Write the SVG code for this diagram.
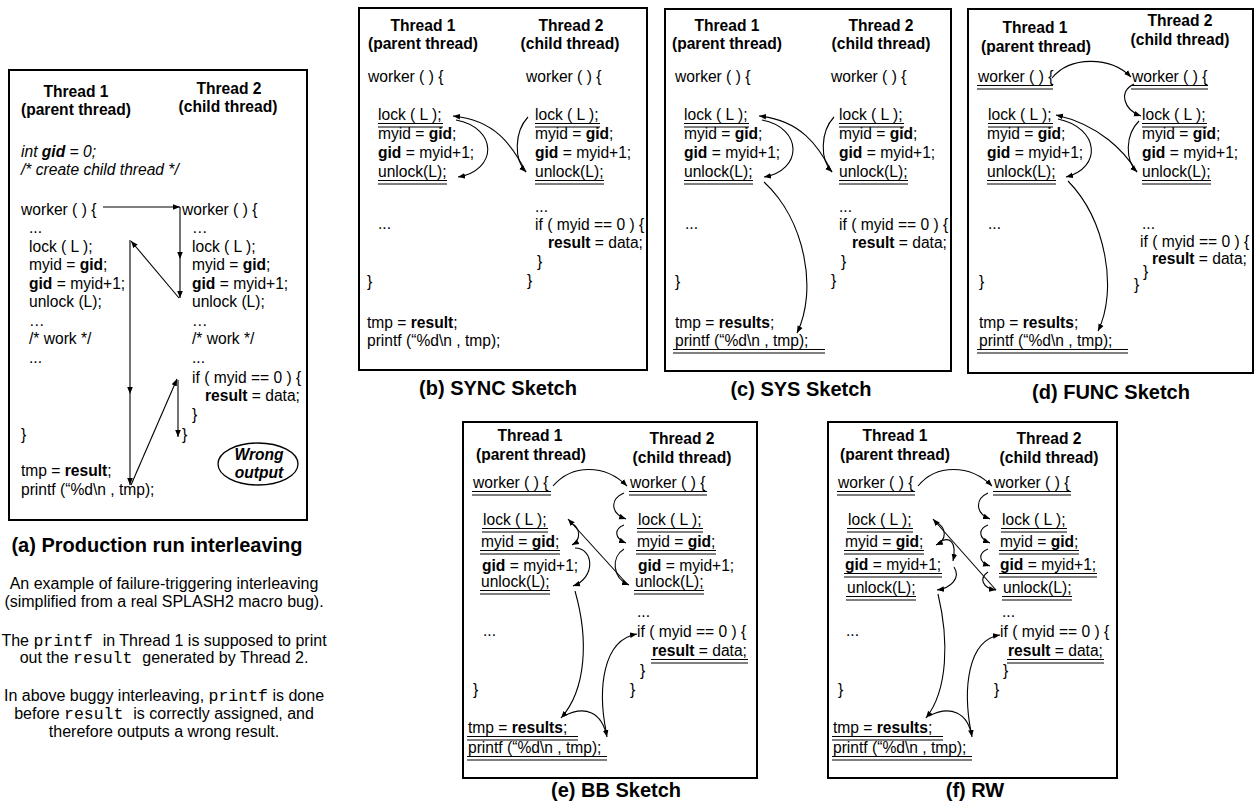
<svg xmlns="http://www.w3.org/2000/svg" width="1259" height="806" viewBox="0 0 1259 806">
<defs>
<marker id="ah" viewBox="0 0 10 10" refX="10" refY="5" markerWidth="7" markerHeight="7" markerUnits="userSpaceOnUse" orient="auto">
<path d="M0,1 L10,5 L0,9 z" fill="#000"/>
</marker>
<style>
text{font-family:"Liberation Sans",Arial,Helvetica,sans-serif;fill:#000}
.box{fill:#fff;stroke:#000;stroke-width:2}
.t{font-size:15.6px}
.h{font-size:15.6px;font-weight:bold;text-anchor:middle}
.b{font-weight:bold}
.i{font-style:italic}
.cap{font-size:20px;font-weight:bold;text-anchor:middle}
.d{font-size:16px;text-anchor:middle}
.m{font-family:"Liberation Mono","Courier New",monospace;font-size:16.5px}
.du{fill:none;stroke:#000;stroke-width:1}
.cn path{fill:none;stroke:#000;stroke-width:1.1;marker-end:url(#ah)}
.oval{fill:none;stroke:#000;stroke-width:1.3}
</style>
</defs>
<rect width="1259" height="806" fill="#fff"/>

<g id="panel-a">
<rect class="box" x="9" y="70" width="298" height="450"/>
<text class="h" x="76" y="97">Thread 1</text>
<text class="h" x="76" y="115">(parent thread)</text>
<text class="h" x="229" y="94">Thread 2</text>
<text class="h" x="228" y="112">(child thread)</text>
<text class="t i" x="21" y="157">int <tspan class="b">gid</tspan> = 0;</text>
<text class="t i" x="21" y="175">/* create child thread */</text>
<text class="t" x="21" y="215">worker ( ) {</text>
<text class="t" x="29" y="233">...</text>
<text class="t" x="29" y="252">lock ( L );</text>
<text class="t" x="29" y="270">myid = <tspan class="b">gid</tspan>;</text>
<text class="t" x="29" y="289"><tspan class="b">gid</tspan> = myid+1;</text>
<text class="t" x="29" y="307">unlock (L);</text>
<text class="t" x="29" y="326">…</text>
<text class="t" x="29" y="344">/* work */</text>
<text class="t" x="29" y="363">...</text>
<text class="t" x="21" y="440">}</text>
<text class="t" x="21" y="476">tmp = <tspan class="b">result</tspan>;</text>
<text class="t" x="21" y="495">printf (“%d\n , tmp);</text>
<text class="t" x="182" y="215">worker ( ) {</text>
<text class="t" x="192" y="233">…</text>
<text class="t" x="192" y="252">lock ( L );</text>
<text class="t" x="192" y="270">myid = <tspan class="b">gid</tspan>;</text>
<text class="t" x="192" y="289"><tspan class="b">gid</tspan> = myid+1;</text>
<text class="t" x="192" y="307">unlock (L);</text>
<text class="t" x="192" y="326">…</text>
<text class="t" x="192" y="344">/* work */</text>
<text class="t" x="192" y="363">...</text>
<text class="t" x="192" y="383">if ( myid == 0 ) {</text>
<text class="t" x="205" y="401"><tspan class="b">result</tspan> = data;</text>
<text class="t" x="192" y="420">}</text>
<text class="t" x="182" y="440">}</text>
<ellipse class="oval" cx="258" cy="464" rx="40" ry="21"/>
<text class="h i" x="259" y="460">Wrong</text>
<text class="h i" x="259" y="478">output</text>
<text class="cap" x="157" y="552">(a) Production run interleaving</text>
<text class="d" x="164" y="589">An example of failure-triggering interleaving</text>
<text class="d" x="164" y="607">(simplified from a real SPLASH2 macro bug).</text>
<text class="d" x="164" y="646">The <tspan class="m">printf </tspan> in Thread 1 is supposed to print</text>
<text class="d" x="164" y="663">out the <tspan class="m">result </tspan> generated by Thread 2.</text>
<text class="d" x="164" y="701">In above buggy interleaving, <tspan class="m">printf</tspan> is done</text>
<text class="d" x="164" y="719">before <tspan class="m">result </tspan> is correctly assigned, and</text>
<text class="d" x="164" y="737">therefore outputs a wrong result.</text>
</g>

<g id="panel-b">
<rect class="box" x="359" y="8" width="288" height="362"/>
<text class="h" x="423" y="31">Thread 1</text>
<text class="h" x="423" y="49">(parent thread)</text>
<text class="h" x="571" y="31">Thread 2</text>
<text class="h" x="570" y="49">(child thread)</text>
<text class="t" x="368" y="82">worker ( ) {</text>
<text class="t" x="378" y="120">lock ( L );</text>
<text class="t" x="378" y="139">myid = <tspan class="b">gid</tspan>;</text>
<text class="t" x="378" y="158"><tspan class="b">gid</tspan> = myid+1;</text>
<text class="t" x="378" y="177">unlock(L);</text>
<text class="t" x="378" y="229">...</text>
<text class="t" x="367" y="287">}</text>
<text class="t" x="367" y="328">tmp = <tspan class="b">result</tspan>;</text>
<text class="t" x="367" y="346">printf (“%d\n , tmp);</text>
<text class="t" x="526" y="82">worker ( ) {</text>
<text class="t" x="535" y="120">lock ( L );</text>
<text class="t" x="535" y="139">myid = <tspan class="b">gid</tspan>;</text>
<text class="t" x="535" y="158"><tspan class="b">gid</tspan> = myid+1;</text>
<text class="t" x="535" y="177">unlock(L);</text>
<text class="t" x="535" y="212">...</text>
<text class="t" x="535" y="230">if ( myid == 0 ) {</text>
<text class="t" x="548" y="248"><tspan class="b">result</tspan> = data;</text>
<text class="t" x="537" y="267">}</text>
<text class="t" x="527" y="286">}</text>
<path class="du" d="M378 123.5H443M378 127H443M378 180.5H447M378 184H447M535 123.5H600M535 127H600M535 180.5H604M535 184H604"/>
<text class="cap" x="498" y="395">(b) SYNC Sketch</text>
</g>

<g id="panel-c">
<rect class="box" x="665" y="9" width="286" height="362"/>
<text class="h" x="727" y="31">Thread 1</text>
<text class="h" x="727" y="49">(parent thread)</text>
<text class="h" x="881" y="31">Thread 2</text>
<text class="h" x="881" y="49">(child thread)</text>
<text class="t" x="675" y="82">worker ( ) {</text>
<text class="t" x="684" y="120">lock ( L );</text>
<text class="t" x="684" y="139">myid = <tspan class="b">gid</tspan>;</text>
<text class="t" x="684" y="158"><tspan class="b">gid</tspan> = myid+1;</text>
<text class="t" x="684" y="177">unlock(L);</text>
<text class="t" x="685" y="229">...</text>
<text class="t" x="675" y="287">}</text>
<text class="t" x="675" y="328">tmp = <tspan class="b">results</tspan>;</text>
<text class="t" x="675" y="346">printf (“%d\n , tmp);</text>
<text class="t" x="831" y="82">worker ( ) {</text>
<text class="t" x="839" y="120">lock ( L );</text>
<text class="t" x="839" y="139">myid = <tspan class="b">gid</tspan>;</text>
<text class="t" x="839" y="158"><tspan class="b">gid</tspan> = myid+1;</text>
<text class="t" x="839" y="177">unlock(L);</text>
<text class="t" x="839" y="212">...</text>
<text class="t" x="839" y="230">if ( myid == 0 ) {</text>
<text class="t" x="852" y="248"><tspan class="b">result</tspan> = data;</text>
<text class="t" x="841" y="267">}</text>
<text class="t" x="831" y="286">}</text>
<path class="du" d="M684 123.5H749M684 127H749M684 180.5H753M684 184H753M839 123.5H904M839 127H904M839 180.5H908M839 184H908M673 349.5H825M673 353H825"/>
<text class="cap" x="801" y="396">(c) SYS Sketch</text>
</g>

<g id="panel-d">
<rect class="box" x="968" y="9" width="285" height="364"/>
<text class="h" x="1035" y="33">Thread 1</text>
<text class="h" x="1036" y="52">(parent thread)</text>
<text class="h" x="1180" y="26">Thread 2</text>
<text class="h" x="1180" y="45">(child thread)</text>
<text class="t" x="978" y="82">worker ( ) {</text>
<text class="t" x="988" y="120">lock ( L );</text>
<text class="t" x="987" y="139">myid = <tspan class="b">gid</tspan>;</text>
<text class="t" x="987" y="158"><tspan class="b">gid</tspan> = myid+1;</text>
<text class="t" x="987" y="177">unlock(L);</text>
<text class="t" x="988" y="229">...</text>
<text class="t" x="979" y="287">}</text>
<text class="t" x="979" y="328">tmp = <tspan class="b">results</tspan>;</text>
<text class="t" x="979" y="346">printf (“%d\n , tmp);</text>
<text class="t" x="1132" y="82">worker ( ) {</text>
<text class="t" x="1142" y="120">lock ( L );</text>
<text class="t" x="1142" y="139">myid = <tspan class="b">gid</tspan>;</text>
<text class="t" x="1142" y="158"><tspan class="b">gid</tspan> = myid+1;</text>
<text class="t" x="1142" y="177">unlock(L);</text>
<text class="t" x="1142" y="229">...</text>
<text class="t" x="1140" y="247">if ( myid == 0 ) {</text>
<text class="t" x="1152" y="264"><tspan class="b">result</tspan> = data;</text>
<text class="t" x="1143" y="277">}</text>
<text class="t" x="1134" y="290">}</text>
<path class="du" d="M977 85.5H1053M977 89H1053M1131 85.5H1208M1131 89H1208M988 123.5H1053M988 127H1053M987 180.5H1056M987 184H1056M1142 123.5H1207M1142 127H1207M1142 180.5H1211M1142 184H1211M977 349.5H1128M977 353H1128"/>
<text class="cap" x="1111" y="399">(d) FUNC Sketch</text>
</g>

<g id="panel-e">
<rect class="box" x="463" y="422" width="294" height="356"/>
<text class="h" x="530" y="441">Thread 1</text>
<text class="h" x="531" y="460">(parent thread)</text>
<text class="h" x="682" y="444">Thread 2</text>
<text class="h" x="682" y="463">(child thread)</text>
<text class="t" x="473" y="488">worker ( ) {</text>
<text class="t" x="483" y="525">lock ( L );</text>
<text class="t" x="481" y="547">myid = <tspan class="b">gid</tspan>;</text>
<text class="t" x="482" y="571"><tspan class="b">gid</tspan> = myid+1;</text>
<text class="t" x="481" y="587">unlock(L);</text>
<text class="t" x="483" y="636">...</text>
<text class="t" x="473" y="695">}</text>
<text class="t" x="468" y="733">tmp = <tspan class="b">results</tspan>;</text>
<text class="t" x="468" y="753">printf (“%d\n , tmp);</text>
<text class="t" x="630" y="488">worker ( ) {</text>
<text class="t" x="638" y="525">lock ( L );</text>
<text class="t" x="637" y="547">myid = <tspan class="b">gid</tspan>;</text>
<text class="t" x="638" y="571"><tspan class="b">gid</tspan> = myid+1;</text>
<text class="t" x="635" y="587">unlock(L);</text>
<text class="t" x="637" y="617">...</text>
<text class="t" x="637" y="637">if ( myid == 0 ) {</text>
<text class="t" x="652" y="656"><tspan class="b">result</tspan> = data;</text>
<text class="t" x="640" y="676">}</text>
<text class="t" x="630" y="695">}</text>
<path class="du" d="M472 491.5H551M472 495H551M629 491.5H707M629 495H707M482 528.5H548M482 532H548M637 528.5H703M637 532H703M480 550.5H560M480 554H560M636 550.5H716M636 554H716M480 590.5H550M480 594H550M634 590.5H704M634 594H704M651 659.5H748M651 663H748M467 736.5H578M467 740H578M467 756.5H607M467 760H607"/>
<text class="cap" x="616" y="797">(e) BB Sketch</text>
</g>

<g id="panel-f">
<rect class="box" x="828" y="422" width="289" height="356"/>
<text class="h" x="895" y="441">Thread 1</text>
<text class="h" x="895" y="460">(parent thread)</text>
<text class="h" x="1049" y="444">Thread 2</text>
<text class="h" x="1049" y="463">(child thread)</text>
<text class="t" x="838" y="488">worker ( ) {</text>
<text class="t" x="848" y="525">lock ( L );</text>
<text class="t" x="845" y="547">myid = <tspan class="b">gid</tspan>;</text>
<text class="t" x="845" y="570"><tspan class="b">gid</tspan> = myid+1;</text>
<text class="t" x="847" y="593">unlock(L);</text>
<text class="t" x="846" y="636">...</text>
<text class="t" x="838" y="695">}</text>
<text class="t" x="833" y="733">tmp = <tspan class="b">results</tspan>;</text>
<text class="t" x="833" y="753">printf (“%d\n , tmp);</text>
<text class="t" x="994" y="488">worker ( ) {</text>
<text class="t" x="1002" y="525">lock ( L );</text>
<text class="t" x="1000" y="547">myid = <tspan class="b">gid</tspan>;</text>
<text class="t" x="1000" y="570"><tspan class="b">gid</tspan> = myid+1;</text>
<text class="t" x="1003" y="593">unlock(L);</text>
<text class="t" x="1002" y="617">...</text>
<text class="t" x="1000" y="637">if ( myid == 0 ) {</text>
<text class="t" x="1008" y="656"><tspan class="b">result</tspan> = data;</text>
<text class="t" x="1003" y="676">}</text>
<text class="t" x="994" y="695">}</text>
<path class="du" d="M837 491.5H915M837 495H915M993 491.5H1071M993 495H1071M847 528.5H913M847 532H913M1001 528.5H1067M1001 532H1067M844 550.5H924M844 554H924M999 550.5H1079M999 554H1079M844 573.5H942M844 577H942M999 573.5H1097M999 577H1097M846 596.5H916M846 600H916M1002 596.5H1072M1002 600H1072M1007 659.5H1104M1007 663H1104M832 736.5H943M832 740H943M832 756.5H972M832 760H972"/>
<text class="cap" x="975" y="797">(f) RW</text>
</g>

<g id="connectors" class="cn">
<g id="conn-a">
<path d="M103 207H180"/>
<path d="M180 207V259"/>
<path d="M180 259V298"/>
<path d="M179 298L131 241"/>
<path d="M130 240V394"/>
<path d="M130 394V485"/>
<path d="M131 485L177 379"/>
<path d="M178 380V437"/>
</g>
<g id="conn-b">
<path d="M528 117C514 132,514 160,526 172"/>
<path d="M526 172C512 145,495 120,453 116"/>
<path d="M456 120C498 128,498 170,458 177"/>
</g>
<g id="conn-c">
<path d="M834 117C820 132,820 160,832 172"/>
<path d="M832 172C818 145,800 120,759 116"/>
<path d="M762 120C803 128,803 170,764 177"/>
<path d="M764 182C805 220,818 290,797 333"/>
</g>
<g id="conn-d">
<path d="M1052 78C1070 56,1110 56,1131 77"/>
<path d="M1134 84C1118 92,1124 110,1141 116"/>
<path d="M1139 121C1125 135,1125 160,1137 172"/>
<path d="M1137 172C1125 152,1100 125,1056 115"/>
<path d="M1058 119C1100 128,1102 168,1066 177"/>
<path d="M1068 181C1106 220,1118 290,1098 331"/>
</g>
<g id="conn-e">
<path d="M553 486C572 464,605 464,627 486"/>
<path d="M624 493C610 499,610 513,626 519"/>
<path d="M624 525C614 529,614 538,626 543"/>
<path d="M624 549C611 557,612 578,629 585"/>
<path d="M628 585L568 519"/>
<path d="M571 523C581 528,581 540,572 545"/>
<path d="M575 548C594 548,596 578,573 586"/>
<path d="M575 591C589 640,586 690,561 718"/>
<path d="M564 716C585 705,602 712,607 737"/>
<path d="M606 731C598 690,602 640,637 634"/>
</g>
<g id="conn-f">
<path d="M918 486C936 464,970 464,992 486"/>
<path d="M988 493C975 499,975 513,990 519"/>
<path d="M988 525C978 529,978 538,990 543"/>
<path d="M988 549C978 553,978 562,990 566"/>
<path d="M988 572C979 578,982 588,996 590"/>
<path d="M996 590L933 519"/>
<path d="M936 522C947 528,947 540,936 545"/>
<path d="M938 543C950 535,957 542,953 561"/>
<path d="M954 567C961 578,951 588,937 590"/>
<path d="M938 594C949 640,948 690,926 718"/>
<path d="M929 716C950 705,968 712,972 737"/>
<path d="M971 732C963 690,967 640,1000 635"/>
</g>
</g>
</svg>
